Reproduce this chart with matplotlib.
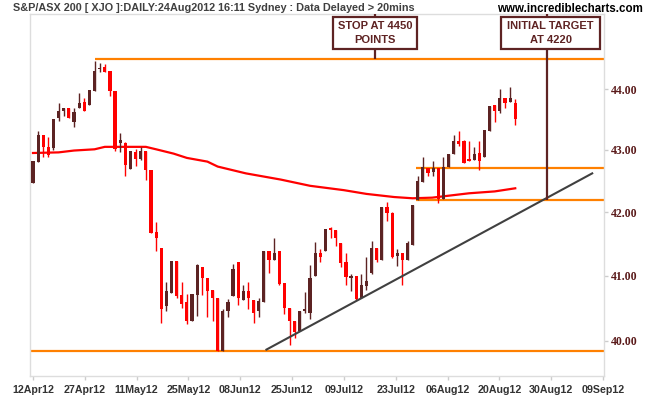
import numpy as np
import matplotlib
matplotlib.use("Agg")
import matplotlib.pyplot as plt
from matplotlib.ticker import NullLocator, FixedLocator
from matplotlib.patches import Rectangle

# daily candles, 12Apr12 .. 24Aug12 (trading day index)
opens = [42.47, 42.81, 43.25, 43.05, 43.03, 43.52, 43.63, 43.68, 43.46, 43.69,
         43.79, 43.74, 43.97, 44.34, 44.37, 44.30, 43.97, 43.12, 43.12, 42.69,
         42.97, 42.85, 42.99, 42.68, 41.68, 41.44, 40.53, 40.74, 41.23, 40.71,
         40.59, 40.30, 40.71, 41.14, 40.96, 40.78, 40.66, 39.85, 40.45, 40.69,
         41.22, 40.63, 40.76, 40.62, 40.46, 40.59, 41.39, 41.24, 41.39, 40.89,
         40.51, 40.30, 40.15, 40.45, 40.43, 40.99, 41.36, 41.39, 41.75, 41.72,
         41.51, 41.22, 40.96, 40.99, 40.66, 40.84, 41.05, 41.44, 41.25, 42.08,
         41.99, 41.30, 41.35, 41.25, 41.48, 42.20, 42.48, 42.70, 42.64, 42.70,
         42.21, 42.73, 42.94, 43.15, 43.14, 42.85, 42.84, 42.95, 42.89, 43.31,
         43.74, 43.64, 43.85, 43.78, 43.77]
highs = [42.82, 43.31, 43.25, 43.21, 43.51, 43.77, 43.68, 43.68, 43.68, 43.93,
         43.85, 43.98, 44.48, 44.44, 44.42, 44.30, 43.97, 43.27, 43.13, 42.98,
         43.01, 43.04, 42.99, 42.68, 41.85, 41.44, 40.90, 41.23, 41.23, 40.90,
         40.72, 40.72, 41.19, 41.14, 40.96, 40.78, 40.66, 40.48, 40.64, 41.19,
         41.22, 40.86, 40.90, 40.63, 40.66, 41.39, 41.39, 41.59, 41.39, 40.89,
         40.51, 40.30, 40.46, 40.75, 41.17, 41.52, 41.42, 41.73, 41.77, 41.72,
         41.51, 41.36, 41.03, 40.99, 41.03, 41.29, 41.55, 41.44, 42.08, 42.16,
         42.00, 41.42, 41.35, 41.54, 42.11, 42.57, 42.89, 42.70, 42.82, 42.70,
         42.89, 42.94, 43.25, 43.31, 43.16, 43.15, 43.05, 43.14, 43.33, 43.72,
         43.74, 44.01, 43.85, 44.03, 43.84]
lows = [42.47, 42.80, 42.89, 42.88, 43.00, 43.48, 43.55, 43.52, 43.38, 43.68,
        43.63, 43.74, 43.97, 44.28, 44.28, 43.89, 42.99, 42.97, 42.58, 42.69,
        42.74, 42.84, 42.52, 41.67, 41.38, 40.28, 40.45, 40.74, 40.66, 40.51,
        40.26, 40.30, 40.38, 40.71, 40.37, 40.31, 39.85, 39.85, 40.36, 40.69,
        40.55, 40.62, 40.49, 40.28, 40.36, 40.59, 41.05, 41.24, 40.86, 40.41,
        39.94, 40.04, 40.15, 40.43, 40.34, 40.99, 41.21, 41.39, 41.59, 41.47,
        41.13, 40.85, 40.77, 40.63, 40.65, 40.78, 41.03, 41.22, 41.25, 41.86,
        41.28, 41.15, 40.85, 41.25, 41.48, 42.20, 42.48, 42.57, 42.57, 42.14,
        42.21, 42.73, 42.94, 43.07, 42.78, 42.82, 42.84, 42.68, 42.89, 43.31,
        43.45, 43.60, 43.68, 43.78, 43.40]
closes = [42.82, 43.25, 43.04, 42.92, 43.51, 43.64, 43.68, 43.53, 43.62, 43.77,
          43.63, 43.98, 44.30, 44.36, 44.28, 43.97, 43.01, 43.16, 42.76, 42.98,
          42.85, 42.99, 42.67, 41.67, 41.59, 40.48, 40.76, 41.23, 40.68, 40.57,
          40.31, 40.72, 41.17, 40.96, 40.77, 40.66, 39.85, 40.46, 40.59, 41.11,
          40.65, 40.76, 40.65, 40.43, 40.61, 41.39, 41.25, 41.35, 40.87, 40.50,
          40.30, 40.14, 40.46, 40.49, 40.97, 41.36, 41.29, 41.73, 41.72, 41.59,
          41.20, 40.98, 40.99, 40.64, 40.85, 40.92, 41.44, 41.25, 42.08, 41.99,
          41.29, 41.35, 41.25, 41.51, 42.11, 42.49, 42.72, 42.62, 42.70, 42.21,
          42.73, 42.94, 43.15, 43.09, 42.79, 42.82, 42.94, 42.82, 43.33, 43.72,
          43.64, 43.85, 43.77, 43.86, 43.50]

# moving average (index, value)
ma_idx = [0, 5, 8, 12, 14, 22, 24, 27.4, 30, 34, 36, 41.5, 48.3, 54, 60.6, 65, 70.4, 74, 77.8, 85, 90, 94]
ma_val = [42.95, 42.96, 42.99, 43.01, 43.05, 43.05, 43.01, 42.94, 42.87, 42.81, 42.73, 42.62,
          42.52, 42.42, 42.35, 42.29, 42.24, 42.22, 42.23, 42.30, 42.33, 42.38]

# trend line and horizontal levels
trend_idx = [45.5, 109.0]
trend_val = [39.87, 42.62]
stop_level = 44.50
stop_start = 12
target_level = 42.20
resist_level = 42.70
levels_start = 74.7
support_level = 39.85
target_idx = 100.2

tick_pos = [0, 10.1, 20.2, 30.3, 40.4, 50.5, 60.6, 70.7, 80.8, 90.9, 101.0, 111.1]
tick_lab = ['12Apr12', '27Apr12', '11May12', '25May12', '08Jun12', '25Jun12',
            '09Jul12', '23Jul12', '06Aug12', '20Aug12', '30Aug12', '09Sep12']
price_ticks = [40, 41, 42, 43, 44]

UP = '#5c2323'
DOWN = '#ff0000'
ORANGE = '#ff8000'
BROWN = '#5e2323'

plt.rcParams['font.family'] = ['Liberation Sans', 'DejaVu Sans']

fig = plt.figure(figsize=(6.5, 4), dpi=100)
ax = fig.add_axes([30/650, 1-375.7/400, 574/650, 361.7/400])
ax.set_yscale('log')

x = np.arange(len(opens))
o = np.array(opens); h = np.array(highs); l = np.array(lows); c = np.array(closes)
cols = np.where(c >= o, UP, DOWN)

ax.vlines(x, l, h, colors=cols, linewidth=1.0, zorder=3)
body_lo = np.minimum(o, c)
body_h = np.maximum(np.abs(c - o), 0.02)
ax.bar(x, body_h, bottom=body_lo, width=0.62, color=cols, linewidth=0, zorder=4)

ax.plot(ma_idx, ma_val, color='#ff0000', linewidth=1.6, zorder=2)

# orange levels
ax.hlines(stop_level, stop_start, 111.3, color=ORANGE, linewidth=1.6, zorder=2)
ax.hlines([target_level, resist_level], levels_start, 111.3, color=ORANGE, linewidth=1.6, zorder=2)
ax.axhline(support_level, color=ORANGE, linewidth=1.6, zorder=2)

ax.plot(trend_idx, trend_val, color='#404040', linewidth=1.5, zorder=5)

# connectors to boxes
ax.vlines((375 - 32.7) / 5.13, stop_level, 46, color=BROWN, linewidth=1.6, zorder=6)
ax.vlines(target_idx, target_level, 46, color=BROWN, linewidth=1.6, zorder=6)

ax.set_xlim(-0.58, 111.3)
ax.set_ylim(39.478, 45.27)

ax.yaxis.tick_right()
ax.yaxis.set_major_locator(FixedLocator(price_ticks))
ax.yaxis.set_minor_locator(NullLocator())
ax.set_yticklabels(['%.2f' % v for v in price_ticks], family='Liberation Serif',
                   fontweight='bold', fontsize=8.5, color='#5a1a1a')
ax.set_xticks(tick_pos)
ax.set_xticklabels(tick_lab, fontweight='bold', fontsize=7.7, color='#333333')
ax.tick_params(axis='x', length=3, width=1, color='#cccccc', pad=4)
ax.tick_params(axis='y', length=3, width=1, color='#cccccc', pad=2)
for s in ax.spines.values():
    s.set_color('#dddddd')
    s.set_linewidth(1)

# annotation boxes (axes fraction)
def box(x0, x1, text):
    r = Rectangle((x0, 0.903), x1 - x0, 0.9917 - 0.903, transform=ax.transAxes,
                  facecolor='white', edgecolor=BROWN, linewidth=1.6, zorder=10, clip_on=False)
    ax.add_patch(r)
    ax.text((x0 + x1) / 2, (0.903 + 0.9917) / 2, text, transform=ax.transAxes,
            ha='center', va='center', fontsize=8, fontweight='bold', color=BROWN,
            linespacing=1.45, zorder=11)

box(303/574, 387/574, 'STOP AT 4450\nPOINTS')
box(471/574, 570/574, 'INITIAL TARGET\nAT 4220')

fig.text(13/650, 1-8/400, 'S&P/ASX 200 [ XJO ]:DAILY:24Aug2012 16:11 Sydney : Data Delayed > 20mins',
         ha='left', va='center', fontsize=7.8, fontweight='bold', color='#404040')
fig.text(643/650, 1-9/400, 'www.incrediblecharts.com', ha='right', va='center',
         fontsize=8.3, fontweight='bold', color='black')

fig.savefig('out.png', dpi=100)
